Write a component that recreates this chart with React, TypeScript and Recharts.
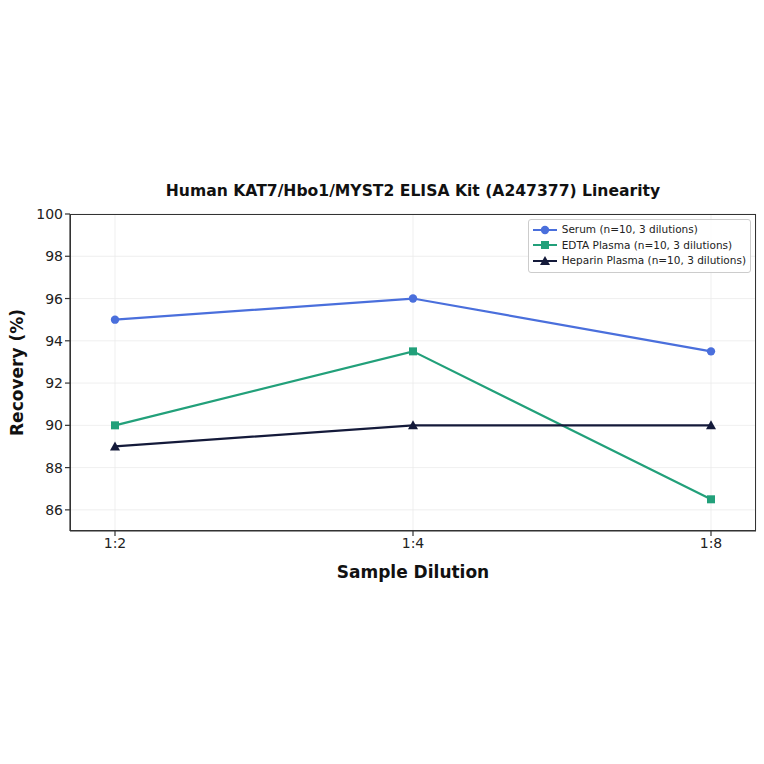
import React from 'react';
import { LineChart, Line, XAxis, YAxis, CartesianGrid } from 'recharts';

const dilutions = ['1:2', '1:4', '1:8'];
const serumValues = [95, 96, 93.5];
const edtaValues = [90, 93.5, 86.5];
const heparinValues = [89, 90, 90];
const yTicks = [86, 88, 90, 92, 94, 96, 98, 100];

const SERIES = [
    { key: 'serum', name: 'Serum (n=10, 3 dilutions)', color: '#4a6fdc', shape: 'circle' },
    { key: 'edta', name: 'EDTA Plasma (n=10, 3 dilutions)', color: '#22a07a', shape: 'square' },
    { key: 'heparin', name: 'Heparin Plasma (n=10, 3 dilutions)', color: '#141a3a', shape: 'triangle' },
];

const data = dilutions.map((d, i) => ({
    dilution: d,
    serum: serumValues[i],
    edta: edtaValues[i],
    heparin: heparinValues[i],
}));

const FONT = 'DejaVu Sans, sans-serif';

const Marker = (shape: string, color: string) => (props: any) => {
    const { cx, cy, key } = props;
    if (cx == null || cy == null) return null;
    if (shape === 'square') {
        return <rect key={key} x={cx - 4} y={cy - 4} width={8} height={8} fill={color} />;
    }
    if (shape === 'triangle') {
        return <polygon key={key} points={`${cx},${cy - 5} ${cx - 5},${cy + 4} ${cx + 5},${cy + 4}`} fill={color} />;
    }
    return <circle key={key} cx={cx} cy={cy} r={4.2} fill={color} />;
};

const LegendBox = () => (
    <div style={{
        position: 'absolute', right: 13, top: 219, whiteSpace: 'nowrap',
        border: '1px solid #ccc', borderRadius: 3, background: 'rgba(255,255,255,0.85)',
        padding: '2px 4px 3px 4px', fontFamily: FONT, fontSize: 10.5, color: '#222', lineHeight: '15.5px',
    }}>
        {SERIES.map(s => (
            <div key={s.key} style={{ display: 'flex', alignItems: 'center' }}>
                <svg width={24} height={12} style={{ marginRight: 5 }}>
                    <line x1={0} y1={6} x2={24} y2={6} stroke={s.color} strokeWidth={2} />
                    {Marker(s.shape, s.color)({ cx: 12, cy: 6 })}
                </svg>
                <span>{s.name}</span>
            </div>
        ))}
    </div>
);

const App: React.FC = () => {
    return (
        <div style={{ position: 'absolute', left: 0, top: 0, width: 764, height: 764, background: '#fff' }}>
            <LineChart width={764} height={764} data={data} margin={{ top: 214, right: 8, bottom: 183, left: 10 }}>
                <CartesianGrid stroke="#ebebeb" strokeWidth={0.8} />
                <XAxis
                    dataKey="dilution"
                    padding={{ left: 45, right: 45 }}
                    height={50}
                    stroke="#333"
                    strokeWidth={1.2}
                    tickSize={5}
                    tick={{ fill: '#222', fontSize: 14, fontFamily: FONT }}
                    label={{ value: 'Sample Dilution', position: 'insideBottom', offset: 3, fill: '#111', fontSize: 17, fontWeight: 'bold', fontFamily: FONT }}
                />
                <YAxis
                    domain={[85, 100]}
                    ticks={yTicks}
                    width={60}
                    stroke="#333"
                    strokeWidth={1.2}
                    tickSize={5}
                    tick={{ fill: '#222', fontSize: 14, fontFamily: FONT }}
                    label={{ value: 'Recovery (%)', angle: -90, position: 'insideLeft', offset: 7, textAnchor: 'middle', fill: '#111', fontSize: 17, fontWeight: 'bold', fontFamily: FONT }}
                />
                {SERIES.map(s => (
                    <Line
                        key={s.key}
                        dataKey={s.key}
                        name={s.name}
                        stroke={s.color}
                        strokeWidth={2.2}
                        dot={Marker(s.shape, s.color)}
                        activeDot={false}
                        isAnimationActive={false}
                    />
                ))}
                <text x={413} y={196} textAnchor="middle" fontFamily={FONT} fontSize={15.6} fontWeight="bold" fill="#111">
                    Human KAT7/Hbo1/MYST2 ELISA Kit (A247377) Linearity
                </text>
            </LineChart>
            <div style={{ position: 'absolute', left: 70, top: 214, width: 686, height: 317, boxSizing: 'border-box', border: '1.2px solid #333', pointerEvents: 'none' }} />
            <LegendBox />
        </div>
    );
};

export default App;
